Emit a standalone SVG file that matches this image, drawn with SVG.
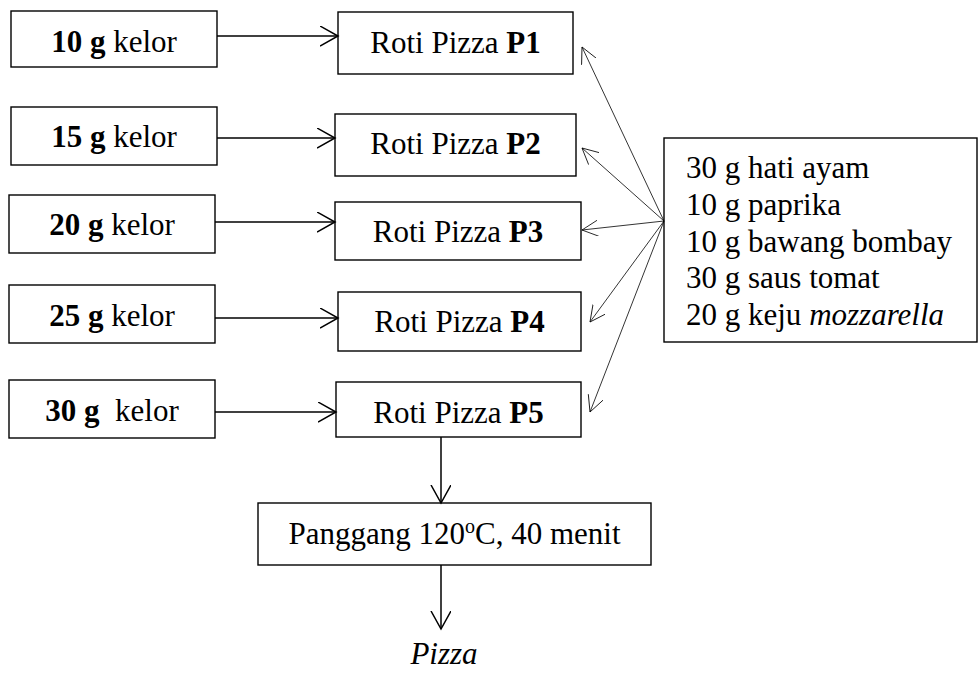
<svg xmlns="http://www.w3.org/2000/svg" width="979" height="673" viewBox="0 0 979 673">
<style>
.box{fill:#fff;stroke:#000;stroke-width:1.4}
text{font-family:"Liberation Serif","Times New Roman",serif;font-size:31px;fill:#000}
.c{text-anchor:middle}
.b{font-weight:bold}
.main{stroke:#000;stroke-width:1.5;fill:none}
.fan{stroke:#000;stroke-width:0.8;fill:none}
</style>
<defs>
<marker id="ah" markerUnits="userSpaceOnUse" markerWidth="22" markerHeight="24" refX="18" refY="10" orient="auto">
<path d="M0,0 L18,10 L0,20" fill="none" stroke="#000" stroke-width="1.5"/>
</marker>
<marker id="ahf" markerUnits="userSpaceOnUse" markerWidth="20" markerHeight="20" refX="16" refY="8" orient="auto">
<path d="M0,0 L16,8 L0,16" fill="none" stroke="#000" stroke-width="0.8"/>
</marker>
</defs>
<g id="k10"><rect class="box" x="11" y="11" width="206" height="56"/><text class="c" x="114" y="52"><tspan class="b">10 g</tspan> kelor</text></g>
<g id="k15"><rect class="box" x="11" y="107" width="206" height="58"/><text class="c" x="114" y="147"><tspan class="b">15 g</tspan> kelor</text></g>
<g id="k20"><rect class="box" x="9" y="195" width="206" height="58"/><text class="c" x="112" y="235"><tspan class="b">20 g</tspan> kelor</text></g>
<g id="k25"><rect class="box" x="9" y="285" width="206" height="58"/><text class="c" x="112" y="326"><tspan class="b">25 g</tspan> kelor</text></g>
<g id="k30"><rect class="box" x="9" y="380" width="206" height="58"/><text class="c" x="112" y="421" xml:space="preserve"><tspan class="b">30 g</tspan>  kelor</text></g>
<g id="p1"><rect class="box" x="338" y="12" width="235" height="62"/><text class="c" x="455.5" y="53">Roti Pizza <tspan class="b">P1</tspan></text></g>
<g id="p2"><rect class="box" x="335" y="114" width="241" height="62"/><text class="c" x="455.5" y="154">Roti Pizza <tspan class="b">P2</tspan></text></g>
<g id="p3"><rect class="box" x="335" y="202" width="246" height="58"/><text class="c" x="458" y="242">Roti Pizza <tspan class="b">P3</tspan></text></g>
<g id="p4"><rect class="box" x="338" y="292" width="243" height="59"/><text class="c" x="459.5" y="332">Roti Pizza <tspan class="b">P4</tspan></text></g>
<g id="p5"><rect class="box" x="336" y="382" width="245" height="55"/><text class="c" x="458.5" y="423">Roti Pizza <tspan class="b">P5</tspan></text></g>
<g id="bahan"><rect class="box" x="664" y="138" width="313" height="204"/>
<text x="686" y="178">30 g hati ayam</text>
<text x="686" y="215">10 g paprika</text>
<text x="686" y="252">10 g bawang bombay</text>
<text x="686" y="288">30 g saus tomat</text>
<text x="686" y="325">20 g keju <tspan font-style="italic">mozzarella</tspan></text>
</g>
<g id="panggang"><rect class="box" x="258" y="503" width="393" height="62"/><text class="c" x="454.5" y="544">Panggang 120<tspan font-size="20" dy="-11">o</tspan><tspan dy="11">C, 40 menit</tspan></text></g>
<g id="pizza"><text class="c" x="444" y="664" font-style="italic">Pizza</text></g>
<g id="connectors">
<line class="main" x1="217" y1="36" x2="338" y2="36" marker-end="url(#ah)"/>
<line class="main" x1="217" y1="138" x2="335" y2="138" marker-end="url(#ah)"/>
<line class="main" x1="215" y1="222" x2="335" y2="222" marker-end="url(#ah)"/>
<line class="main" x1="215" y1="318" x2="338" y2="318" marker-end="url(#ah)"/>
<line class="main" x1="215" y1="412" x2="336" y2="412" marker-end="url(#ah)"/>
<line class="main" x1="441" y1="437" x2="441" y2="503" marker-end="url(#ah)"/>
<line class="main" x1="441" y1="565" x2="441" y2="629" marker-end="url(#ah)"/>
<line class="fan" x1="664" y1="221" x2="582" y2="47" marker-end="url(#ahf)"/>
<line class="fan" x1="664" y1="221" x2="582" y2="148" marker-end="url(#ahf)"/>
<line class="fan" x1="664" y1="221" x2="582" y2="230" marker-end="url(#ahf)"/>
<line class="fan" x1="664" y1="221" x2="590" y2="322" marker-end="url(#ahf)"/>
<line class="fan" x1="664" y1="221" x2="590" y2="412" marker-end="url(#ahf)"/>
</g>
</svg>
